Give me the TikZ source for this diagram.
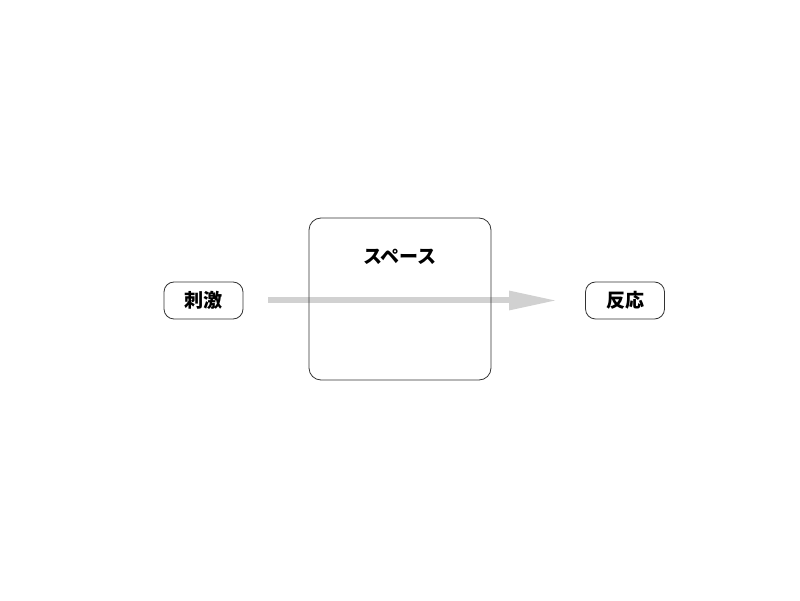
\documentclass[tikz,border=0pt]{standalone}
\usepackage{fontspec}
\newfontfamily\cjk{Noto Sans CJK JP}
\usetikzlibrary{positioning, arrows.meta}

\tikzset{
	smallbox/.style={draw=black!80, line width=0.8pt, rounded corners=10pt,
		minimum width=79pt, minimum height=37pt, font=\cjk\bfseries\fontsize{19}{21}\selectfont},
	bigbox/.style={draw=black!80, line width=0.8pt, rounded corners=12pt,
		minimum width=182pt, minimum height=162pt},
	flow/.style={draw=black!18, line width=6pt, -{Triangle[length=48pt, width=18pt]}}
}

\begin{document}
\begin{tikzpicture}[x=1pt, y=1pt]
	\useasboundingbox (0,0) rectangle (800,600);
	
	%Reiz und Reaktion
	\node[smallbox] (stimulus) at (203.5,299.5) {刺激};
	\node[smallbox] (response) at (625,299.5) {反応};
	
	%Pfeil
	\draw[flow, shorten <=25pt, shorten >=28pt] (stimulus) -- (response);
	
	%Raum
	\node[bigbox] (space) at (400,301) {};
	\node[below=31pt of space.north, inner sep=0pt, font=\cjk\bfseries\fontsize{19}{21}\selectfont] (spacetext) {スペース};
	
\end{tikzpicture}
\end{document}
